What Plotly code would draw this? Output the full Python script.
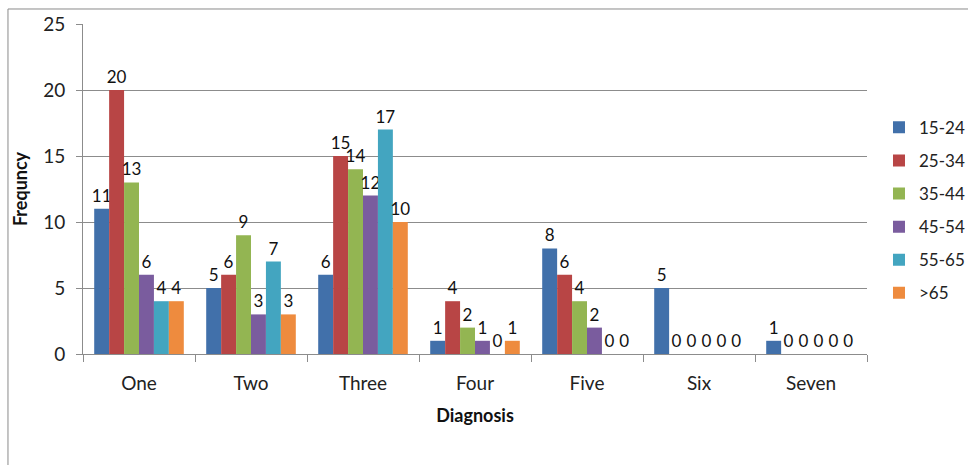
import plotly.graph_objects as go

diagnoses = ["One", "Two", "Three", "Four", "Five", "Six", "Seven"]
age_groups = ["15-24", "25-34", "35-44", "45-54", "55-65", ">65"]
freq_15_24 = [11, 5, 6, 1, 8, 5, 1]
freq_25_34 = [20, 6, 15, 4, 6, 0, 0]
freq_35_44 = [13, 9, 14, 2, 4, 0, 0]
freq_45_54 = [6, 3, 12, 1, 2, 0, 0]
freq_55_65 = [4, 7, 17, 0, 0, 0, 0]
freq_over_65 = [4, 3, 10, 1, 0, 0, 0]
y_ticks = [0, 5, 10, 15, 20, 25]

series = [freq_15_24, freq_25_34, freq_35_44, freq_45_54, freq_55_65, freq_over_65]
colors = ["#4170AA", "#B84545", "#93B552", "#7A5C9E", "#43A5C0", "#EE8B3E"]

FONT = "Lato"

fig = go.Figure()
for name, vals, col in zip(age_groups, series, colors):
    fig.add_trace(go.Bar(
        x=diagnoses, y=vals, name=name, legendgroup=name,
        marker=dict(color=col, line=dict(width=0)),
        text=[str(v) for v in vals], textposition="outside",
        constraintext="none",
        textfont=dict(family=FONT, size=17, color="#111111"),
        cliponaxis=False,
    ))

fig.update_layout(
    width=968, height=465,
    margin=dict(l=83, r=101, t=24, b=111, autoexpand=False),
    paper_bgcolor="white", plot_bgcolor="white",
    barmode="group", bargap=0.2, bargroupgap=0,
    font=dict(family=FONT, size=18, color="#222222"),
    legend=dict(
        x=1.0153, y=0.74, xanchor="left", yanchor="top",
        font=dict(family=FONT, size=17, color="#222222"),
        itemsizing="constant", tracegroupgap=8,
        bgcolor="rgba(0,0,0,0)",
    ),
)

fig.update_yaxes(
    range=[0, 25], tickvals=y_ticks,
    showgrid=True, gridcolor="#8c8c8c", gridwidth=1,
    showline=True, linecolor="#8c8c8c", linewidth=1,
    ticks="outside", ticklen=6, tickcolor="#8c8c8c",
    ticklabelstandoff=7,
    tickfont=dict(family=FONT, size=19, color="#222222"),
    zeroline=False,
    title=dict(text="<b>Frequncy</b>", font=dict(family=FONT, size=18, color="#111111"), standoff=10),
)
fig.update_xaxes(
    showline=True, linecolor="#8c8c8c", linewidth=1,
    ticks="outside", ticklen=7, tickcolor="#8c8c8c", tickson="boundaries",
    ticklabelstandoff=12,
    tickfont=dict(family=FONT, size=19, color="#222222"),
    title=dict(text="<b>Diagnosis</b>", font=dict(family=FONT, size=18, color="#111111"), standoff=16),
)

# outer chart frame
fig.add_shape(type="rect", xref="paper", yref="paper",
              x0=-0.0957, x1=1.2, y0=-0.5, y1=1.0455,
              line=dict(color="#8a8a8a", width=1), fillcolor="rgba(0,0,0,0)", layer="below")

fig.write_html("out.html")
